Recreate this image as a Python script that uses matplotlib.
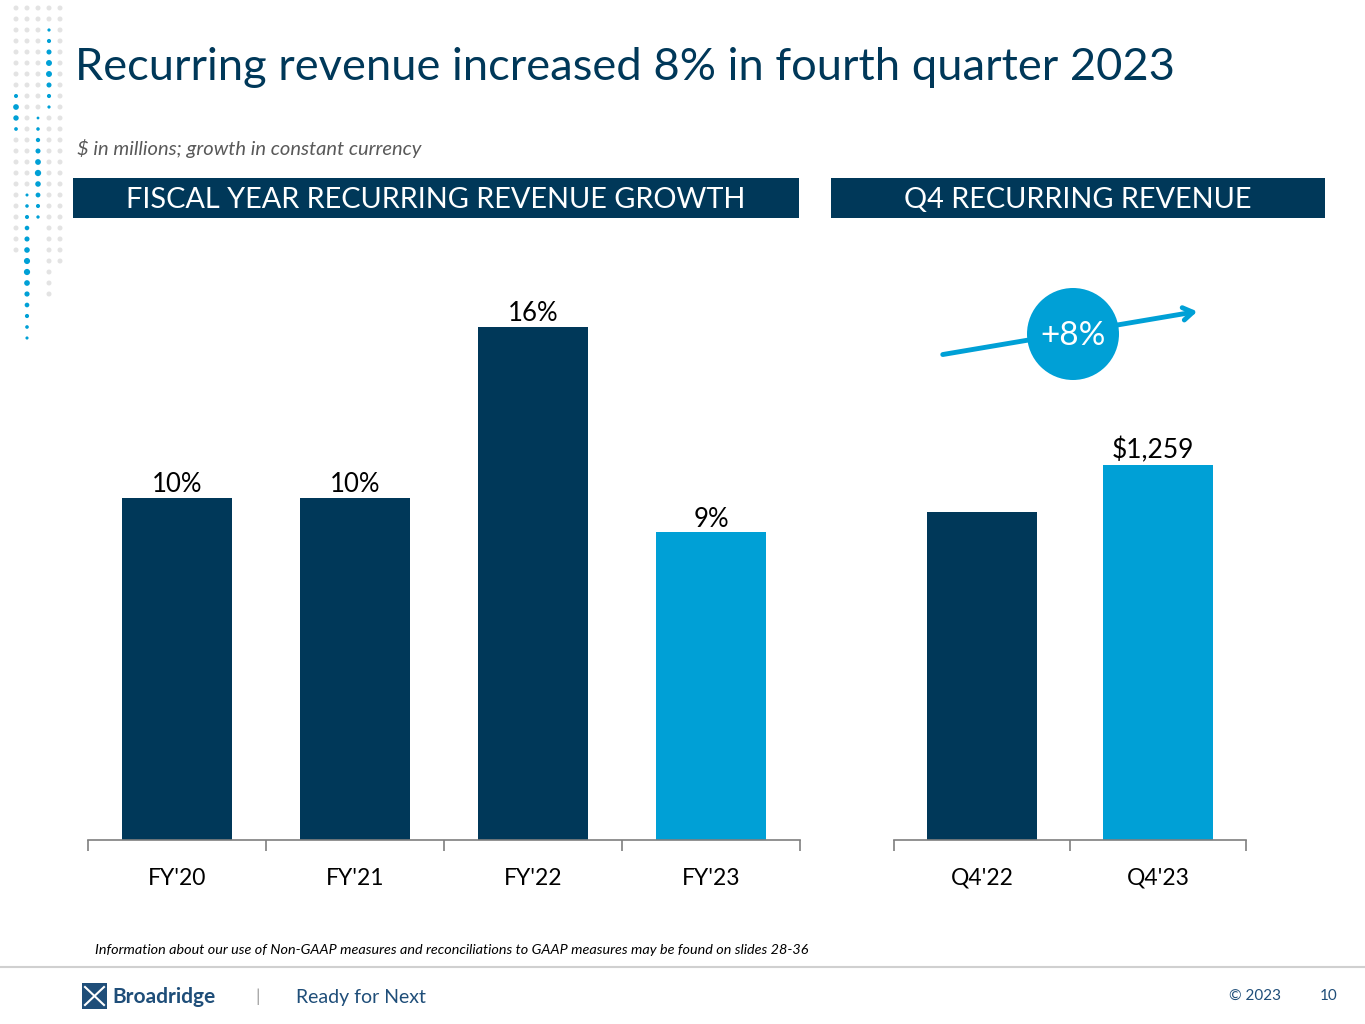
import matplotlib
matplotlib.use("Agg")
import matplotlib.pyplot as plt
from matplotlib.patches import Rectangle, Circle

plt.rcParams['font.family'] = ['Lato', 'DejaVu Sans']

NAVY = '#003859'
BLUE = '#00A0D6'
GRAY_TXT = '#595959'

# data
fy_labels = ["FY'20", "FY'21", "FY'22", "FY'23"]
fy_heights = [10.0, 10.0, 15.0, 9.0]
fy_text = ['10%', '10%', '16%', '9%']
fy_colors = [NAVY, NAVY, NAVY, BLUE]

q_labels = ["Q4'22", "Q4'23"]
q_values = [1101, 1259]
q_text = ['', '$1,259']
q_colors = [NAVY, BLUE]
growth_text = '+8%'

W, H = 1365, 1024
fig = plt.figure(figsize=(W / 100, H / 100), dpi=100)

# overlay in pixel coords for decorations
bg = fig.add_axes([0, 0, 1, 1])
bg.set_xlim(0, W)
bg.set_ylim(H, 0)
bg.axis('off')

# dotted decoration top-left
dot_cols = [16, 27, 38, 49, 60]
dot_rows = [y for y in range(8, 345, 11)]
blue_ranges = {16: (88, 135), 27: (190, 345), 38: (118, 225), 49: (25, 112), 60: (0, 0)}
gray_ranges = {16: (8, 260), 27: (8, 190), 38: (8, 118), 49: (8, 300), 60: (8, 270)}
for cx in dot_cols:
    for ry in dot_rows:
        b0, b1 = blue_ranges[cx]
        g0, g1 = gray_ranges[cx]
        if b0 <= ry <= b1:
            mid = (b0 + b1) / 2
            s = 3.2 - 1.8 * abs(ry - mid) / max((b1 - b0) / 2, 1)
            bg.add_patch(Circle((cx, ry), max(s, 1.3), color=BLUE, lw=0))
        elif g0 <= ry <= g1:
            bg.add_patch(Circle((cx, ry), 2.5, color='#E3E3E3', lw=0))

bg.text(75, 68, 'Recurring revenue increased 8% in fourth quarter 2023',
        fontsize=32.6, color=NAVY, va='center', ha='left')
bg.text(77, 148, '$ in millions; growth in constant currency',
        fontsize=14.5, color=GRAY_TXT, style='italic', va='center', ha='left')

bg.add_patch(Rectangle((73, 178), 726, 40, color=NAVY, lw=0))
bg.text(436, 200, 'FISCAL YEAR RECURRING REVENUE GROWTH', fontsize=20.8,
        color='white', ha='center', va='center')
bg.add_patch(Rectangle((831, 178), 494, 40, color=NAVY, lw=0))
bg.text(1078, 200, 'Q4 RECURRING REVENUE', fontsize=20.8,
        color='white', ha='center', va='center')

# footer
bg.plot([0, W], [967, 967], color='#D0D0D0', lw=1.5)
bg.text(95, 950, 'Information about our use of Non-GAAP measures and reconciliations to GAAP measures may be found on slides 28-36',
        fontsize=10.4, style='italic', color='black', va='center', ha='left')
bg.add_patch(Rectangle((82, 983), 25, 26, color='#1F4E79', lw=0))
bg.plot([85, 104], [987, 1005], color='white', lw=1.5)
bg.plot([85, 104], [1005, 987], color='white', lw=1.5)
bg.text(112, 997, 'Broadridge', fontsize=15, fontweight='bold', color='#1F4E79',
        va='center', ha='left')
bg.text(258, 997, '|', fontsize=13, color='#A0A0A0', va='center', ha='center')
bg.text(296, 997, 'Ready for Next', fontsize=14, color='#1F4E79', va='center', ha='left')
bg.text(1255, 996, '© 2023', fontsize=11, color='#1F4E79', va='center', ha='center')
bg.text(1329, 996, '10', fontsize=11, color='#1F4E79', va='center', ha='center')

# left chart
ax1 = fig.add_axes([88 / W, (H - 840) / H, 712 / W, 540 / H])
x1 = range(len(fy_labels))
bars = ax1.bar(x1, fy_heights, width=0.62, color=fy_colors)
ax1.set_xlim(-0.5, len(fy_labels) - 0.5)
ax1.set_ylim(0, 540 / 34.2)
for b, t in zip(bars, fy_text):
    ax1.text(b.get_x() + b.get_width() / 2, b.get_height() + 0.02, t,
             ha='center', va='bottom', fontsize=18.5, color='black')

# right chart
ax2 = fig.add_axes([894 / W, (H - 840) / H, 352 / W, 540 / H])
x2 = range(len(q_labels))
bars2 = ax2.bar(x2, q_values, width=0.62, color=q_colors)
ax2.set_xlim(-0.5, len(q_labels) - 0.5)
ax2.set_ylim(0, 540 / (375 / 1259))
for b, t in zip(bars2, q_text):
    ax2.text(b.get_x() + b.get_width() / 2 - 0.03, b.get_height() + 5, t,
             ha='center', va='bottom', fontsize=19, color='black')

for ax, labels in ((ax1, fy_labels), (ax2, q_labels)):
    n = len(labels)
    for s in ('top', 'right', 'left'):
        ax.spines[s].set_visible(False)
    ax.spines['bottom'].set_color('#7F7F7F')
    ax.spines['bottom'].set_linewidth(1.2)
    ax.set_yticks([])
    ax.set_xticks([i - 0.5 for i in range(n + 1)], minor=False)
    ax.set_xticklabels([])
    ax.tick_params(axis='x', which='major', length=8, color='#7F7F7F', width=1.2)
    ax.set_xticks(list(range(n)), minor=True)
    ax.set_xticklabels(labels, minor=True)
    ax.tick_params(axis='x', which='minor', length=0, pad=20, labelsize=16.5, labelcolor='black')
    ax.patch.set_alpha(0)

# growth arrow and bubble
bg.annotate('', xy=(1200, 311), xytext=(940, 355),
            arrowprops=dict(arrowstyle='->,head_length=0.7,head_width=0.45', color=BLUE, lw=3.5))
bg.add_patch(Circle((1073, 334), 46, color=BLUE, lw=0, zorder=5))
bg.text(1073, 336, growth_text, fontsize=24, color='white', ha='center', va='center', zorder=6)

fig.savefig('out.png', dpi=100)
